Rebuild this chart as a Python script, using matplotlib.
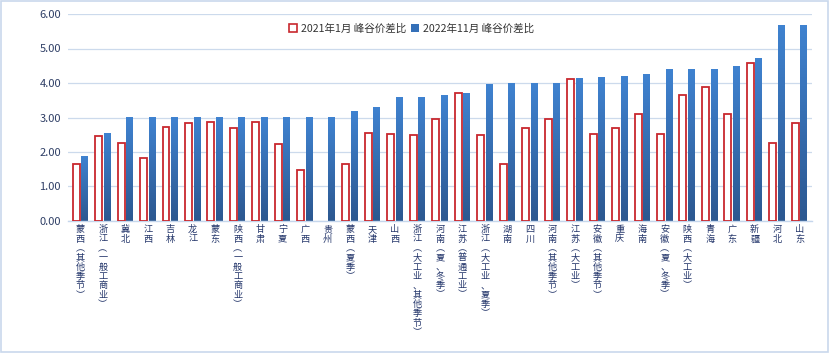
import numpy as np
import matplotlib.pyplot as plt
from matplotlib.colors import LinearSegmentedColormap
from matplotlib.patches import Patch

plt.rcParams['font.family'] = ['Noto Sans CJK SC', 'DejaVu Sans']

regions = ["蒙西(其他季节)", "浙江(一般工商业)", "冀北", "江西", "吉林", "龙江", "蒙东",
           "陕西(一般工商业)", "甘肃", "宁夏", "广西", "贵州", "蒙西(夏季)", "天津", "山西",
           "浙江(大工业、其他季节)", "河南(夏、冬季)", "江苏(普通工业)", "浙江(大工业、夏季)",
           "湖南", "四川", "河南(其他季节)", "江苏(大工业)", "安徽(其他季节)", "重庆", "海南",
           "安徽(夏、冬季)", "陕西(大工业)", "青海", "广东", "新疆", "河北", "山东"]
# 贵州 has no 2021 value
ratio_2021 = [1.65, 2.46, 2.26, 1.83, 2.72, 2.84, 2.87, 2.70, 2.87, 2.23, 1.48, np.nan, 1.65,
              2.55, 2.52, 2.49, 2.96, 3.71, 2.49, 1.65, 2.70, 2.96, 4.12, 2.52, 2.70, 3.10,
              2.52, 3.65, 3.88, 3.10, 4.58, 2.26, 2.84]
ratio_2022 = [1.88, 2.55, 3.00, 3.00, 3.00, 3.00, 3.00, 3.00, 3.00, 3.00, 3.00, 3.00, 3.16,
              3.28, 3.57, 3.57, 3.65, 3.70, 3.95, 4.00, 4.00, 4.00, 4.12, 4.15, 4.20, 4.25,
              4.40, 4.40, 4.40, 4.47, 4.70, 5.66, 5.66]
label_2021 = "2021年1月 峰谷价差比"
label_2022 = "2022年11月 峰谷价差比"

red = "#C8282E"
blue_cmap = LinearSegmentedColormap.from_list("blu", ["#2C5890", "#3F82D0"])


def vertical(s):
    s = s.replace("(", "︵").replace(")", "︶")
    return "\n".join(s)


fig = plt.figure(figsize=(8.3, 3.53), dpi=100)
ax = fig.add_axes([68 / 830, 1 - 221 / 353, (812 - 68) / 830, (221 - 14) / 353])

x = np.arange(len(regions))
w = 0.31
ax.bar(x - 0.19, ratio_2021, w, facecolor="white", edgecolor=red, linewidth=1.3, zorder=3)
blue_bars = ax.bar(x + 0.19, ratio_2022, w, color="#3570B8", zorder=2)

grad = np.linspace(0, 1, 64).reshape(-1, 1)
for b in blue_bars:
    x0, h = b.get_x(), b.get_height()
    ax.imshow(grad, extent=[x0, x0 + b.get_width(), 0, h], origin="lower",
              cmap=blue_cmap, aspect="auto", zorder=2.5)

ax.set_xlim(-0.55, len(regions) - 0.45)
ax.set_ylim(0, 6)
ax.set_yticks(np.arange(0, 6.01, 1))
ax.set_yticklabels([f"{v:.2f}" for v in np.arange(0, 6.01, 1)], fontsize=8, color="#2F3F66")
ax.yaxis.grid(True, color="#CCDAEC", linewidth=0.9)
ax.set_axisbelow(True)
ax.tick_params(axis="y", length=0, pad=5)
ax.tick_params(axis="x", length=0, pad=3)
ax.set_xticks(x)
ax.set_xticklabels([vertical(r) for r in regions], fontsize=6.6, color="#23356A",
                   linespacing=1.05, va="top")
for s in ["top", "right", "left"]:
    ax.spines[s].set_visible(False)
ax.spines["bottom"].set_color("#C5D6EC")
ax.spines["bottom"].set_linewidth(1.0)

handles = [Patch(facecolor="white", edgecolor=red, linewidth=1.2),
           Patch(facecolor="#3570B8")]
leg = ax.legend(handles, [label_2021, label_2022], loc="upper center",
                bbox_to_anchor=(0.462, 1.0), ncol=2, frameon=False, fontsize=7.6,
                handlelength=0.75, handleheight=0.75, handletextpad=0.4, columnspacing=0.4)
for t in leg.get_texts():
    t.set_color("#333333")

fig.patches.append(plt.Rectangle((0.001, 0.002), 0.997, 0.995, transform=fig.transFigure,
                                 fill=False, edgecolor="#C9D8EC", linewidth=1.2))

fig.savefig("out.png", dpi=100)
